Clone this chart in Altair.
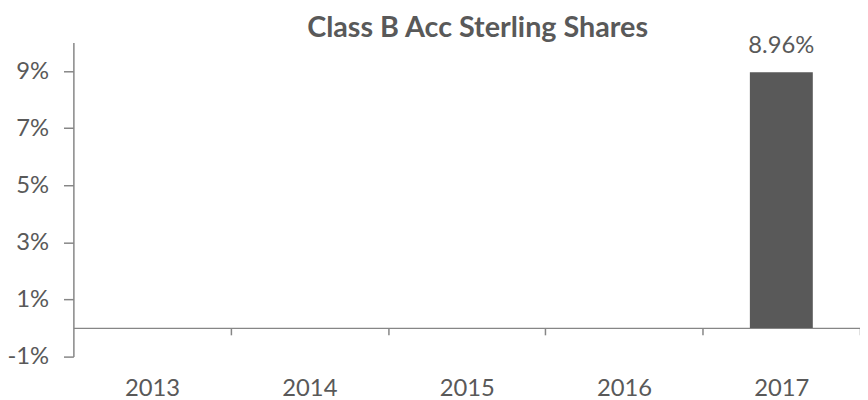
import altair as alt
import pandas as pd

years = ["2013", "2014", "2015", "2016", "2017"]
returns = [None, None, None, None, 0.0896]
y_ticks = [-0.01, 0.01, 0.03, 0.05, 0.07, 0.09]

df = pd.DataFrame({"year": years, "ret": returns})

TEXT = "#595959"
AXIS = "#868686"
FONT = "Lato"
W = 794
STEP = W / len(years)

x_enc = alt.X(
    "year:N",
    sort=years,
    scale=alt.Scale(paddingInner=0.6, paddingOuter=0.3),
    axis=alt.Axis(
        title=None,
        labelAngle=0,
        offset=-29,
        domainColor=AXIS,
        domainWidth=1.5,
        tickColor=AXIS,
        tickWidth=1.5,
        tickSize=7,
        tickOffset=STEP / 2,
        labelOffset=-STEP / 2,
        labelPadding=42,
        labelFont=FONT,
        labelFontSize=24,
        labelColor=TEXT,
    ),
)

y_enc = alt.Y(
    "ret:Q",
    scale=alt.Scale(domain=[-0.01, 0.10], nice=False, zero=False),
    axis=alt.Axis(
        title=None,
        values=y_ticks,
        labelExpr="round(datum.value*100) + '%'",
        grid=False,
        domainColor=AXIS,
        domainWidth=1.5,
        tickColor=AXIS,
        tickWidth=1.5,
        tickSize=10,
        labelPadding=15,
        labelFont=FONT,
        labelFontSize=24,
        labelColor=TEXT,
    ),
)

bars = alt.Chart(df).mark_bar(color="#595959").encode(x=x_enc, y=y_enc)

labels = (
    alt.Chart(df)
    .transform_filter("isValid(datum.ret)")
    .mark_text(
        font=FONT,
        fontSize=24,
        color=TEXT,
        baseline="alphabetic",
        dy=-19,
    )
    .encode(
        x=alt.X("year:N", sort=years),
        y=alt.Y("ret:Q"),
        text=alt.Text("ret:Q", format=".2%"),
    )
)

chart = (
    alt.layer(bars, labels)
    .properties(
        width=W,
        height=317,
        title=alt.TitleParams(
            "Class B Acc Sterling Shares",
            font=FONT,
            fontSize=29,
            fontWeight="bold",
            color=TEXT,
            anchor="middle",
            dx=11,
            dy=12,
        ),
        autosize=alt.AutoSizeParams(type="none"),
        padding={"left": 66, "top": 33, "right": 0, "bottom": 52},
    )
    .configure_view(stroke=None)
)

chart.save("out.html", embed_options={"renderer": "svg", "actions": False})
